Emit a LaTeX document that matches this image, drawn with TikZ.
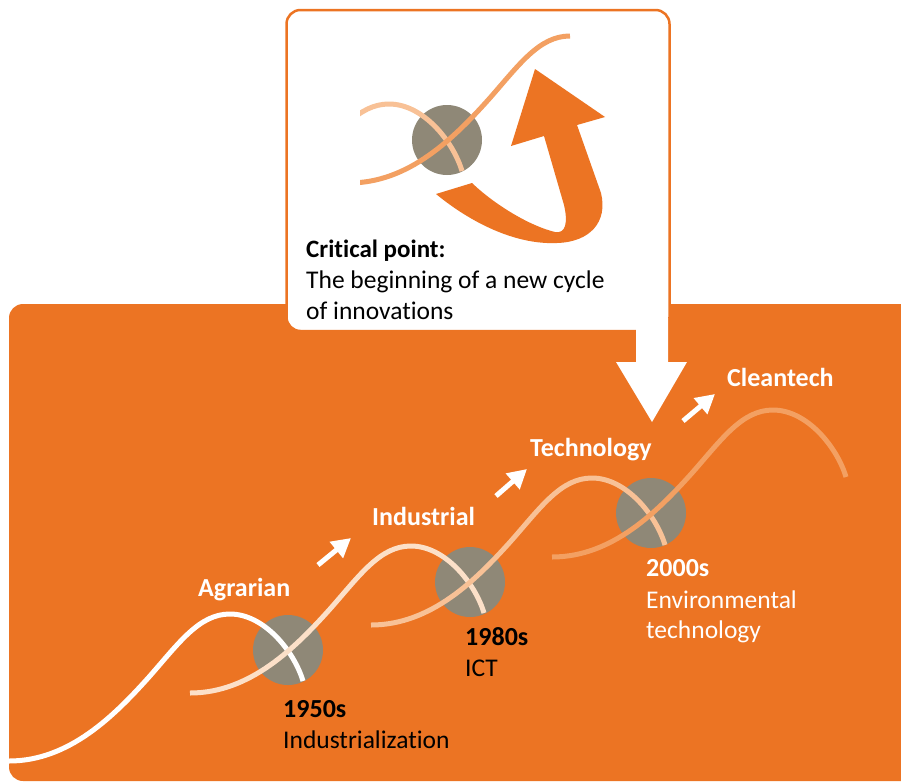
\documentclass[tikz,border=0pt]{standalone}
\usepackage{fontspec}
\setmainfont{Carlito}[Ligatures=NoCommon]
\usetikzlibrary{arrows.meta}
\definecolor{obg}{HTML}{EC7423}
\definecolor{cgray}{HTML}{8F8877}
\definecolor{wavetwo}{HTML}{FCE0C8}
\definecolor{wavethree}{HTML}{F8C196}
\definecolor{wavefour}{HTML}{F3A062}
\begin{document}
\begin{tikzpicture}[x=1pt,y=-1pt,
  wave/.style={line width=5pt},
  crit/.style={circle, fill=cgray, minimum size=70pt, inner sep=0pt},
  smallarrow/.style={draw=white, line width=5pt, -{Triangle[length=19pt,width=20pt]}},
  lbl/.style={anchor=base west, inner sep=0pt, text=white, font=\fontsize{26}{30}\selectfont\bfseries},
  yr/.style={anchor=base west, inner sep=0pt, font=\fontsize{26}{30}\selectfont\bfseries},
  desc/.style={anchor=base west, inner sep=0pt, font=\fontsize{25.5}{30}\selectfont},
]
\useasboundingbox (0,0) rectangle (901,782);
% orange background
\fill[obg, rounded corners=14pt] (9,304) rectangle (940,781);
% callout box
\draw[obg, fill=white, line width=2.5pt, rounded corners=14pt] (286.5,10) rectangle (669.5,331);
% big white arrow
\fill[white] (636,318) -- (636,362) -- (616,362) -- (652,422) -- (687,362) -- (668,362) -- (668,318) -- cycle;

% inset
\node[crit] (ic) at (447,140) {};
\begin{scope}
\clip (360,0) rectangle (668,330);
\begin{scope}[shift={(168,251)}]
\draw[wave, wavethree] (0,0) .. controls (60,0) and (105,-45) .. (140,-84) .. controls (170,-118) and (190,-147) .. (221,-147) .. controls (255,-147) and (285,-110) .. (294,-80);
\end{scope}
\begin{scope}[shift={(349,183)}]
\draw[wave, wavefour] (0,0) .. controls (60,0) and (105,-45) .. (140,-84) .. controls (170,-118) and (190,-147) .. (221,-147);
\end{scope}
\end{scope}
\fill[obg] (436,194) .. controls (470,222) and (515,245) .. (557,243) .. controls (590,242) and (608,222) .. (601,193) -- (577,125) -- (605,117) -- (535,69) -- (511,146) -- (544,136) -- (564,205) .. controls (568,222) and (566,234) .. (555,232) .. controls (530,226) and (495,205) .. (472,183) -- cycle;

\node[yr] (crit) at (306,257) {\fontsize{25}{30}\selectfont Critical point:};
\node[desc] (critb) at (306,288) {The beginning of a new cycle};
\node[desc] (critc) at (306,319) {of innovations};

% main circles
\node[crit] (c1) at (288,650) {};
\node[crit] (c2) at (470,582) {};
\node[crit] (c3) at (651,513) {};

% main curves
\begin{scope}[shift={(9,761)}]
\draw[wave, white] (0,0) .. controls (60,0) and (105,-45) .. (140,-84) .. controls (170,-118) and (190,-147) .. (221,-147) .. controls (255,-147) and (285,-110) .. (294,-80);
\end{scope}
\begin{scope}[shift={(190,693)}]
\draw[wave, wavetwo] (0,0) .. controls (60,0) and (105,-45) .. (140,-84) .. controls (170,-118) and (190,-147) .. (221,-147) .. controls (255,-147) and (285,-110) .. (294,-80);
\end{scope}
\begin{scope}[shift={(371,625)}]
\draw[wave, wavethree] (0,0) .. controls (60,0) and (105,-45) .. (140,-84) .. controls (170,-118) and (190,-147) .. (221,-147) .. controls (255,-147) and (285,-110) .. (294,-80);
\end{scope}
\begin{scope}[shift={(552,557)}]
\draw[wave, wavefour] (0,0) .. controls (60,0) and (105,-45) .. (140,-84) .. controls (170,-118) and (190,-147) .. (221,-147) .. controls (255,-147) and (285,-110) .. (294,-80);
\end{scope}

% small arrows
\coordinate (a1s) at (318,565); \coordinate (a1e) at (351,538);
\coordinate (a2s) at (496,496); \coordinate (a2e) at (527,469);
\coordinate (a3s) at (683,421); \coordinate (a3e) at (715,394);
\draw[smallarrow] (a1s) -- (a1e);
\draw[smallarrow] (a2s) -- (a2e);
\draw[smallarrow] (a3s) -- (a3e);

% labels
\node[lbl] (agr) at (198,596) {Agrarian};
\node[lbl] (ind) at (372,525) {Industrial};
\node[lbl] (tec) at (530,456) {Technology};
\node[lbl] (cle) at (727,386) {Cleantech};

\node[yr] (y1) at (283,717) {1950s};
\node[desc] (d1) at (283,748) {Industrialization};
\node[yr] (y2) at (465,645) {1980s};
\node[desc] (d2) at (465,676) {ICT};
\node[yr, text=white] (y3) at (646,576) {2000s};
\node[desc, text=white] (d3) at (646,608) {Environmental};
\node[desc, text=white] (d3b) at (646,638) {technology};
\end{tikzpicture}
\end{document}
